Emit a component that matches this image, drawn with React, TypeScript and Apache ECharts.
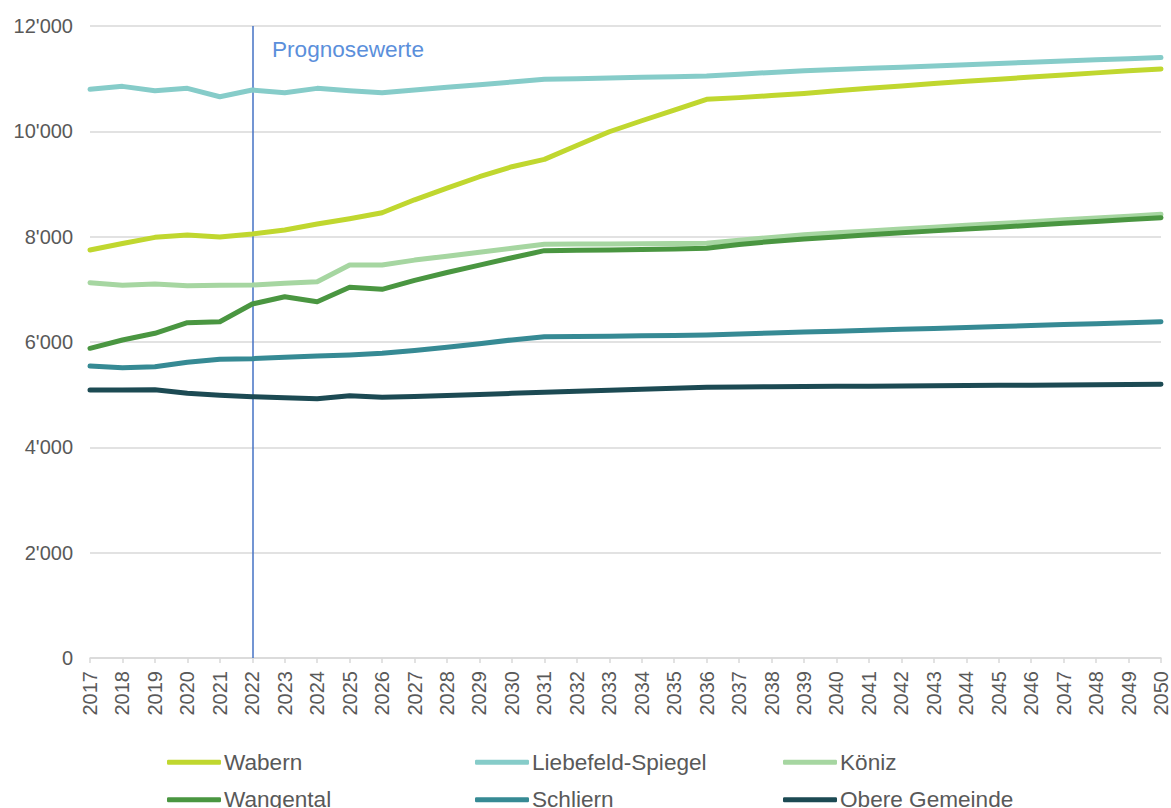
import React, { useEffect, useRef } from "react";
import * as echarts from "echarts";

const years = [
  "2017","2018","2019","2020","2021","2022","2023","2024","2025","2026",
  "2027","2028","2029","2030","2031","2032","2033","2034","2035","2036",
  "2037","2038","2039","2040","2041","2042","2043","2044","2045","2046",
  "2047","2048","2049","2050",
];

const wabern = [7746, 7870, 7987, 8031, 7993, 8050, 8126, 8240, 8341, 8455, 8700, 8920, 9138, 9328, 9468, 9732, 9992, 10201, 10404, 10607, 10640, 10680, 10720, 10770, 10820, 10860, 10910, 10950, 10990, 11030, 11070, 11110, 11150, 11185];
const liebefeld = [10797, 10854, 10771, 10816, 10657, 10784, 10733, 10816, 10771, 10733, 10784, 10835, 10886, 10936, 10987, 11000, 11012, 11025, 11037, 11050, 11085, 11118, 11150, 11173, 11196, 11219, 11242, 11265, 11288, 11311, 11334, 11357, 11380, 11400];
const koeniz = [7126, 7076, 7101, 7069, 7076, 7082, 7114, 7145, 7462, 7462, 7555, 7630, 7705, 7780, 7855, 7859, 7863, 7866, 7870, 7874, 7930, 7985, 8035, 8075, 8110, 8145, 8180, 8215, 8250, 8285, 8320, 8355, 8390, 8424];
const wangental = [5880, 6038, 6165, 6366, 6385, 6721, 6860, 6765, 7038, 7000, 7170, 7320, 7460, 7600, 7734, 7740, 7748, 7755, 7765, 7779, 7850, 7910, 7955, 7995, 8035, 8075, 8110, 8145, 8180, 8215, 8255, 8290, 8325, 8360];
const schliern = [5544, 5512, 5531, 5614, 5671, 5683, 5709, 5734, 5753, 5785, 5840, 5900, 5965, 6040, 6100, 6105, 6110, 6117, 6124, 6133, 6150, 6170, 6188, 6206, 6222, 6240, 6258, 6276, 6294, 6312, 6330, 6348, 6366, 6385];
const obere = [5088, 5088, 5095, 5026, 4988, 4962, 4943, 4924, 4981, 4950, 4965, 4985, 5005, 5025, 5045, 5065, 5085, 5105, 5122, 5140, 5145, 5150, 5155, 5158, 5162, 5166, 5170, 5173, 5177, 5181, 5185, 5189, 5193, 5197];

const seriesNames = ["Wabern", "Liebefeld-Spiegel", "Köniz", "Wangental", "Schliern", "Obere Gemeinde"];
const seriesData = [wabern, liebefeld, koeniz, wangental, schliern, obere];
const seriesColors = ["#C0D72F", "#86CCC9", "#A6D6A1", "#4A9641", "#368A94", "#1C4A53"];

const forecastYear = "2022";
const forecastLabel = "Prognosewerte";

const FONT = "'Liberation Sans', Arial, sans-serif";

function fmt(v: number): string {
  return String(v).replace(/\B(?=(\d{3})+(?!\d))/g, "'");
}

export default function App() {
  const ref = useRef<HTMLDivElement>(null);

  useEffect(() => {
    if (!ref.current) return;
    const chart = echarts.init(ref.current, undefined, { renderer: "svg" });

    const series: any[] = seriesNames.map((name, i) => ({
      name,
      type: "line",
      data: seriesData[i],
      showSymbol: false,
      symbol: "none",
      color: seriesColors[i],
      itemStyle: { color: seriesColors[i] },
      lineStyle: { width: 5, color: seriesColors[i], cap: "round", join: "round" },
      z: 2 + i,
    }));

    series[0].markLine = {
      silent: true,
      symbol: "none",
      label: { show: false },
      lineStyle: { color: "#4472C4", width: 1.5, type: "solid" },
      data: [{ xAxis: forecastYear }],
      z: 1,
    };

    const legends = seriesNames.map((name, i) => {
      const col = i % 3;
      const row = Math.floor(i / 3);
      return {
        data: [name],
        orient: "horizontal",
        left: 167 + col * 308,
        top: row === 0 ? 750.7 : 788.3,
        padding: 0,
        itemWidth: 54,
        itemHeight: 5,
        icon: "roundRect",
        selectedMode: false,
        textStyle: { fontSize: 22.6, color: "#595959", fontFamily: FONT, lineHeight: 20, padding: [0, 0, 0, -2] },
      };
    });

    chart.setOption({
      animation: false,
      textStyle: { fontFamily: FONT },
      grid: { left: 90, right: 10, top: 26, bottom: 150, containLabel: false },
      xAxis: {
        type: "category",
        data: years,
        boundaryGap: false,
        axisLine: { show: true, lineStyle: { color: "#D9D9D9", width: 1.5 } },
        axisTick: { show: true, length: 5, interval: 0, lineStyle: { color: "#D9D9D9", width: 1.5 } },
        axisLabel: {
          interval: 0,
          rotate: 90,
          margin: 13,
          fontSize: 20,
          color: "#595959",
          fontFamily: FONT,
        },
        splitLine: { show: false },
      },
      yAxis: {
        type: "value",
        min: 0,
        max: 12000,
        interval: 2000,
        axisLine: { show: false },
        axisTick: { show: false },
        axisLabel: {
          fontSize: 20,
          color: "#595959",
          margin: 17,
          fontFamily: FONT,
          formatter: (v: number) => fmt(v),
        },
        splitLine: { show: true, lineStyle: { color: "#D9D9D9", width: 1.5 } },
      },
      legend: legends,
      graphic: [
        {
          type: "text",
          left: 272,
          top: 38,
          style: {
            text: forecastLabel,
            fontSize: 22.6,
            fill: "#5B8FDB",
            fontFamily: FONT,
          },
        },
      ],
      series,
    });

    return () => chart.dispose();
  }, []);

  return (
    <div
      ref={ref}
      style={{ position: "fixed", left: 0, top: 0, width: 1171, height: 808, background: "#fff" }}
    />
  );
}
